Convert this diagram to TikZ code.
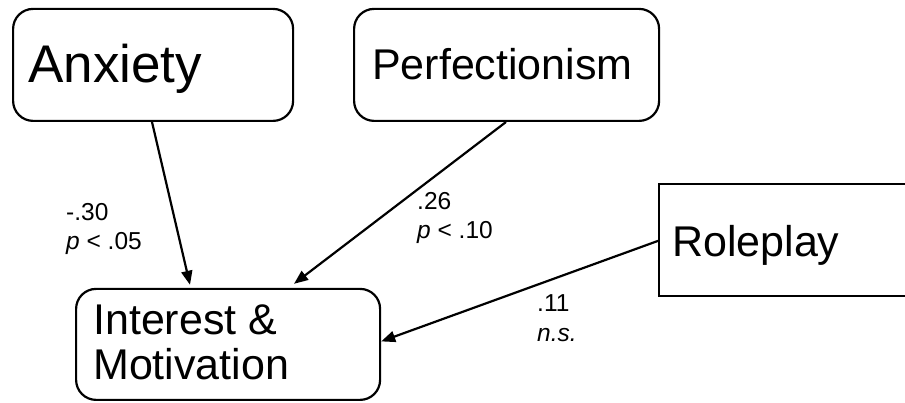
\documentclass[tikz,border=0pt]{standalone}
\usepackage{fontspec}
\setmainfont{Liberation Sans}
\usetikzlibrary{arrows.meta}
\begin{document}
\begin{tikzpicture}[x=1pt,y=1pt,
  box/.style={draw,line width=2.2pt,rounded corners=20pt,inner sep=0pt,anchor=south west},
  sqbox/.style={draw,line width=2.2pt,inner sep=0pt,anchor=south west},
  txt/.style={anchor=base west,inner sep=0pt},
  lbl/.style={anchor=base west,inner sep=0pt,font=\fontsize{24.5}{28}\selectfont},
  arr/.style={line width=2.2pt,-{Triangle[length=14pt,width=11pt]}}]
\useasboundingbox (0,0) rectangle (905,403);
% boxes
\node[box,minimum width=280pt,minimum height=112pt] (anx) at (12,281) {};
\node[box,minimum width=305pt,minimum height=112pt] (perf) at (353,281) {};
\node[sqbox,minimum width=260pt,minimum height=112pt] (role) at (658,106) {};
\node[box,minimum width=304pt,minimum height=111pt] (int) at (75,2) {};
% box texts
\node[txt,font=\fontsize{53}{60}\selectfont] (anxt) at (28,320) {Anxiety};
\node[txt,font=\fontsize{43}{48}\selectfont] (perft) at (372,323) {Perfectionism};
\node[txt,font=\fontsize{43}{48}\selectfont] (rolet) at (672,146) {Roleplay};
\node[txt,font=\fontsize{43}{48}\selectfont] (intt1) at (93,68) {Interest \&};
\node[txt,font=\fontsize{43}{48}\selectfont] (intt2) at (93,23) {Motivation};
% connectors
\draw[arr] ([xshift=140pt]anx.south west) -- ([xshift=115pt,yshift=3pt]int.north west);
\draw[arr] ([xshift=153pt]perf.south west) -- ([xshift=219pt,yshift=4pt]int.north west);
\draw[arr] ([yshift=-1pt]role.west) -- ([yshift=3pt]int.east);
% labels
\node[lbl] (l1a) at (66,182) {-.30};
\node[lbl] (l1b) at (66,153) {\textit{p} < .05};
\node[lbl] (l2a) at (417,193) {.26};
\node[lbl] (l2b) at (417,164) {\textit{p} < .10};
\node[lbl] (l3a) at (537,91) {.11};
\node[lbl] (l3b) at (537,61) {\textit{n.s.}};
\end{tikzpicture}
\end{document}
